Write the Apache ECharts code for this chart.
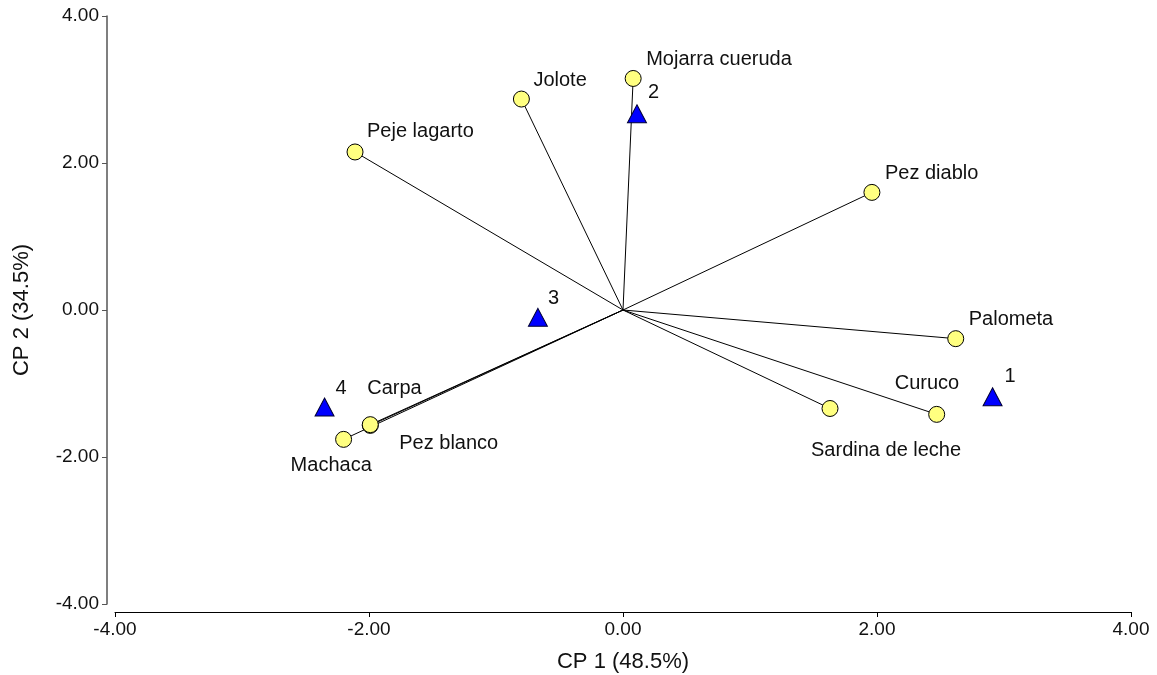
<!DOCTYPE html>
<html>
<head>
<meta charset="utf-8">
<script src="https://cdn.jsdelivr.net/npm/echarts@6/dist/echarts.min.js"></script>
<style>
html,body{margin:0;padding:0;background:#fff;}
#chart{width:1157px;height:675px;}
</style>
</head>
<body>
<div id="chart"></div>
<script>
// ---- data ----
var speciesNames = ['Mojarra cueruda','Jolote','Peje lagarto','Pez diablo','Palometa','Curuco','Sardina de leche','Carpa','Pez blanco','Machaca'];
var speciesX = [0.08, -0.80, -2.11, 1.96, 2.62, 2.47, 1.63, -1.99, -1.99, -2.20];
var speciesY = [3.15, 2.87, 2.15, 1.60, -0.39, -1.42, -1.34, -1.57, -1.56, -1.76];

var siteNames = ['1','2','3','4'];
var siteX = [2.91, 0.11, -0.67, -2.35];
var siteY = [-1.18, 2.67, -0.10, -1.32];

var axisTicks = [-4, -2, 0, 2, 4];
var xTitle = 'CP 1 (48.5%)';
var yTitle = 'CP 2 (34.5%)';

// ---- label placement (style) ----
var speciesLabelOffset = [[13,-19],[12,-19],[12,-20],[13,-19],[13,-19],[-42,-31],[-19,42],[-3,-37],[29,19],[-53,26]];
var siteLabelOffset = [[12,-20],[11,-21],[10,-19],[11,-19]];

var font = 'Liberation Sans, Arial, sans-serif';

var speciesData = speciesNames.map(function(n,i){
  return {
    name: n,
    value: [speciesX[i], speciesY[i]],
    label: {show:true, formatter:n, position:'inside', offset:speciesLabelOffset[i], align:'left', verticalAlign:'middle'}
  };
});
var siteData = siteNames.map(function(n,i){
  return {
    name: n,
    value: [siteX[i], siteY[i]],
    label: {show:true, formatter:n, position:'inside', offset:siteLabelOffset[i], align:'left', verticalAlign:'middle'}
  };
});
var vectorData = speciesNames.map(function(n,i){
  return {coords: [[0,0],[speciesX[i], speciesY[i]]]};
});

var chart = echarts.init(document.getElementById('chart'));
chart.setOption({
  backgroundColor:'#fff',
  animation:false,
  grid:{left:115, right:26, top:16, bottom:71, containLabel:false, outerBoundsMode:'none'},
  xAxis:{
    type:'value', min:axisTicks[0], max:axisTicks[axisTicks.length-1], interval:2,
    offset:8,
    splitLine:{show:false},
    axisLine:{show:true, onZero:false, lineStyle:{color:'#000', width:1}},
    axisTick:{show:true, length:5, lineStyle:{color:'#000'}},
    axisLabel:{color:'#111', fontSize:19, fontFamily:font, margin:8, formatter:function(v){return v.toFixed(2);}},
    name:xTitle, nameLocation:'middle', nameGap:39,
    nameTextStyle:{color:'#111', fontSize:22, fontFamily:font}
  },
  yAxis:{
    type:'value', min:axisTicks[0], max:axisTicks[axisTicks.length-1], interval:2,
    offset:8,
    splitLine:{show:false},
    axisLine:{show:true, onZero:false, lineStyle:{color:'#555', width:1.5}},
    axisTick:{show:true, length:5, lineStyle:{color:'#555'}},
    axisLabel:{color:'#111', fontSize:19, fontFamily:font, margin:8, formatter:function(v){return v.toFixed(2);}},
    name:yTitle, nameLocation:'middle', nameGap:74, nameRotate:90,
    nameTextStyle:{color:'#111', fontSize:22, fontFamily:font}
  },
  series:[
    {
      type:'lines', coordinateSystem:'cartesian2d', z:1,
      lineStyle:{color:'#000', width:1, opacity:1},
      data:vectorData
    },
    {
      type:'scatter', symbol:'circle', symbolSize:16, z:3,
      itemStyle:{color:'#FFFF80', borderColor:'#000', borderWidth:1, opacity:1},
      label:{color:'#111', fontSize:20, fontFamily:font},
      data:speciesData
    },
    {
      type:'scatter', symbol:'triangle', symbolSize:[19,18], z:3,
      itemStyle:{color:'#0000FF', borderColor:'#000033', borderWidth:1, opacity:1},
      label:{color:'#111', fontSize:20, fontFamily:font},
      data:siteData
    }
  ]
});
</script>
</body>
</html>
